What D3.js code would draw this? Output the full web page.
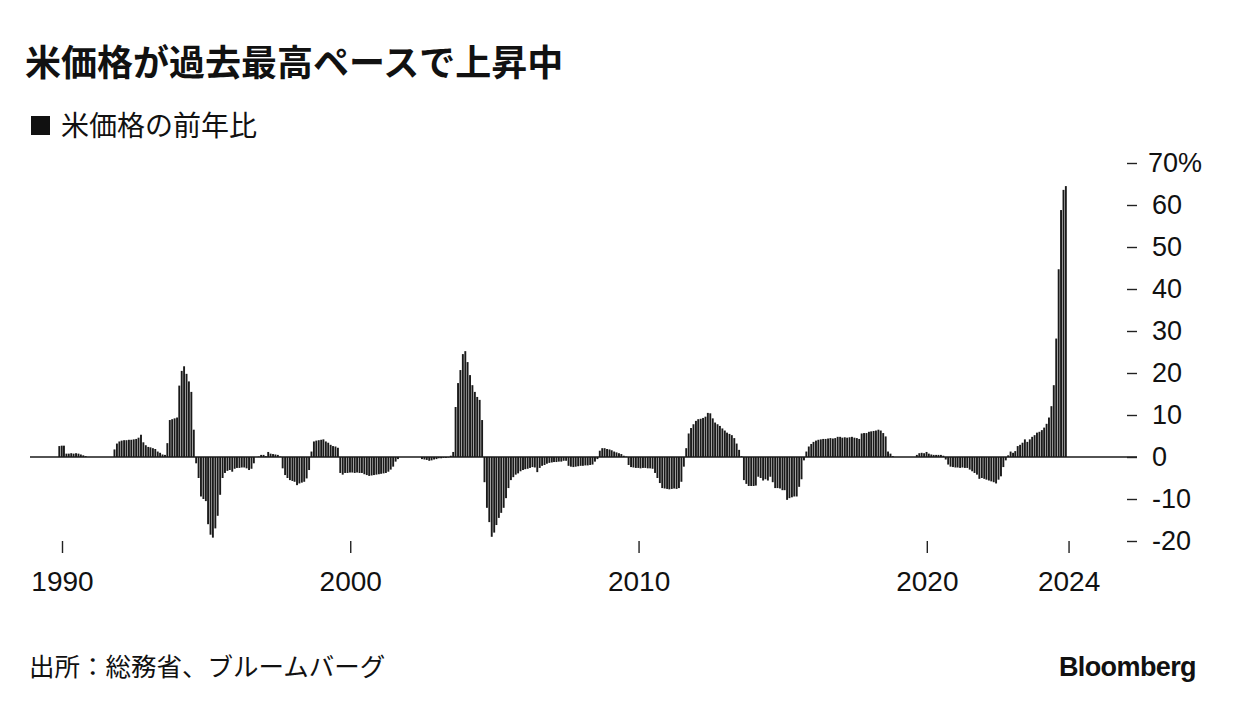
<!DOCTYPE html>
<html>
<head>
<meta charset="utf-8">
<script src="https://cdn.jsdelivr.net/npm/d3@7"></script>
<style>
  body { margin: 0; background: #fff; }
  svg { display: block; }
  .jp { font-family: "Noto Sans CJK JP", "Noto Sans", sans-serif; fill: #111; }
  .num { font-family: "Liberation Sans", Arial, sans-serif; fill: #111; }
</style>
</head>
<body>
<div id="chart"></div>
<script>
// Rice price, year-on-year change (%), monthly Jan 1990 - Dec 2024
const startMonth = new Date(1990, 0, 1);
const endMonth = new Date(2025, 0, 1);
const yoy = [
  2.6, 2.7, 2.7, 0.8, 0.8, 0.9, 0.8, 0.9, 0.8, 0.6, 0.4, 0.2,            // 1990
  0, 0, 0, 0, 0, 0, 0, 0, 0, 0, 0, 1.8,                                  // 1991
  3.2, 3.7, 3.9, 4.0, 4.0, 4.1, 4.1, 4.2, 4.3, 4.6, 5.3, 3.5,            // 1992
  2.8, 2.4, 2.3, 2.1, 1.9, 1.3, 1.0, 0.6, 0.5, 3.3, 8.8, 9.0,            // 1993
  9.2, 9.4, 17.0, 20.5, 21.6, 19.8, 18.0, 15.5, 6.5, -1.5, -5.0, -9.4,   // 1994
  -10.0, -10.5, -16.0, -18.5, -19.2, -17.0, -14.0, -9.0, -5.0, -3.8, -3.3, -3.1, // 1995
  -3.5, -2.8, -2.6, -2.6, -2.5, -2.5, -2.7, -3.1, -2.8, -1.5, 0.0, 0.1,  // 1996
  0.5, 0.5, 0.2, 1.2, 0.8, 0.7, 0.6, 0.5, 0.1, -2.7, -4.3, -5.0,         // 1997
  -5.5, -5.7, -5.9, -6.7, -6.3, -6.1, -5.9, -5.1, -3.1, 1.3, 3.7, 3.9,   // 1998
  4.0, 4.1, 4.2, 3.7, 3.4, 2.9, 2.6, 2.5, 2.2, -3.8, -4.2, -3.8,         // 1999
  -3.8, -3.7, -3.7, -3.8, -3.7, -3.8, -3.8, -4.1, -4.3, -4.5, -4.4, -4.3, // 2000
  -4.2, -4.1, -4.0, -3.9, -3.8, -3.5, -3.0, -2.3, -1.1, -0.5, 0, 0,      // 2001
  0, 0, 0, 0, 0, 0, 0, -0.5, -0.6, -0.7, -0.9, -0.8,                     // 2002
  -0.6, -0.5, -0.3, -0.3, -0.2, -0.2, -0.1, 0.3, 1.2, 11.9, 17.6, 20.7,  // 2003
  24.5, 25.2, 22.6, 19.5, 17.1, 15.5, 14.3, 13.6, 8.8, -6.0, -12.1, -15.5, // 2004
  -19.0, -18.0, -16.2, -14.5, -13.3, -12.1, -9.8, -7.4, -5.5, -4.8, -4.2, -3.9, // 2005
  -3.4, -3.1, -2.9, -2.8, -2.6, -2.4, -2.5, -3.6, -2.6, -2.1, -1.9, -1.6, // 2006
  -1.4, -1.3, -1.2, -1.2, -1.1, -1.1, -0.9, -0.9, -2.1, -2.3, -2.4, -2.3, // 2007
  -2.2, -2.1, -2.1, -2.0, -2.0, -1.9, -1.8, -1.1, -0.5, 1.5, 2.1, 2.1,   // 2008
  1.9, 1.8, 1.6, 1.3, 1.1, 0.9, 0.7, 0.3, 0.1, -1.9, -2.4, -2.5,         // 2009
  -2.6, -2.6, -2.7, -2.6, -2.6, -2.7, -2.7, -2.8, -3.8, -5.0, -6.2, -7.4, // 2010
  -7.5, -7.6, -7.7, -7.6, -7.5, -7.6, -7.4, -5.9, -2.3, 2.1, 5.6, 6.9,   // 2011
  7.8, 8.6, 9.0, 9.1, 9.3, 9.6, 10.5, 10.4, 9.2, 8.2, 7.8, 7.4,          // 2012
  6.8, 6.3, 5.8, 5.5, 5.2, 4.5, 3.2, 1.7, 0.2, -5.5, -6.4, -6.9,         // 2013
  -6.9, -6.9, -6.8, -4.7, -5.0, -5.6, -5.3, -5.6, -4.7, -6.0, -7.4, -7.4, // 2014
  -7.5, -7.9, -7.9, -10.2, -9.8, -9.6, -9.4, -9.4, -7.1, -5.3, -0.8, 1.3, // 2015
  2.5, 3.1, 3.6, 3.9, 4.1, 4.2, 4.3, 4.3, 4.4, 4.5, 4.4, 4.5,            // 2016
  4.8, 4.8, 4.6, 4.7, 4.6, 4.7, 4.8, 4.6, 4.5, 4.3, 5.6, 5.7,            // 2017
  5.7, 6.0, 6.1, 6.2, 6.3, 6.5, 6.3, 5.7, 4.9, 1.3, 0.8, 0.2,            // 2018
  0, 0, 0, 0, 0, 0, 0, 0, 0, 0.5, 0.9, 1.0,                              // 2019
  0.9, 1.2, 0.8, 0.6, 0.5, 0.5, 0.5, 0.5, 0.3, -0.6, -1.8, -2.3,         // 2020
  -2.4, -2.5, -2.5, -2.6, -2.5, -2.6, -2.6, -3.0, -3.4, -3.8, -4.2, -5.2, // 2021
  -5.0, -5.2, -5.4, -5.6, -5.8, -6.0, -6.3, -5.4, -4.6, -2.4, -0.8, 0.4, // 2022
  1.3, 1.0, 1.4, 2.6, 2.9, 3.4, 4.2, 3.6, 4.2, 4.8, 5.2, 5.8,            // 2023
  6.0, 6.4, 7.0, 7.9, 9.4, 12.1, 17.1, 28.2, 44.7, 58.8, 63.6, 64.5      // 2024
];
const yTicks = [-20, -10, 0, 10, 20, 30, 40, 50, 60, 70];
const xTickDates = [new Date(1990, 0, 1), new Date(2000, 0, 1), new Date(2010, 0, 1), new Date(2020, 0, 1), new Date(2024, 11, 1)];
const xTickLabels = ['1990', '2000', '2010', '2020', '2024'];

const title = '米価格が過去最高ペースで上昇中';
const legendLabel = '米価格の前年比';
const source = '出所：総務省、ブルームバーグ';

const months = d3.timeMonth.range(startMonth, endMonth);
const data = months.map((d, i) => ({ date: d, value: yoy[i] }));

const width = 1236, height = 726;
const svg = d3.select('#chart').append('svg')
  .attr('width', width)
  .attr('height', height);

// Scales
const x = d3.scaleTime()
  .domain([startMonth, endMonth])
  .range([62, 1071]);

const y = d3.scaleLinear()
  .domain([-20, 70])
  .range([541, 163]);

// Headings
svg.append('text')
  .attr('class', 'jp')
  .attr('x', 25).attr('y', 76)
  .attr('font-size', 36)
  .attr('font-weight', 700)
  .text(title);

svg.append('rect')
  .attr('x', 31).attr('y', 116)
  .attr('width', 19).attr('height', 19)
  .attr('fill', '#111');

svg.append('text')
  .attr('class', 'jp')
  .attr('x', 61).attr('y', 136)
  .attr('font-size', 28)
  .text(legendLabel);

// Bars
const barW = 1.9;
svg.append('g')
  .selectAll('rect')
  .data(data.filter(d => d.value !== 0))
  .enter()
  .append('rect')
  .attr('x', d => x(d.date) - 2.7 - barW / 2)
  .attr('y', d => y(Math.max(0, d.value)))
  .attr('width', barW)
  .attr('height', d => Math.abs(y(d.value) - y(0)))
  .attr('fill', '#1a1a1a');

// Zero line
svg.append('line')
  .attr('x1', 30).attr('x2', 1137)
  .attr('y1', y(0)).attr('y2', y(0))
  .attr('stroke', '#1a1a1a')
  .attr('stroke-width', 1.6);

// Y axis (right)
const yAxis = svg.append('g')
  .attr('transform', 'translate(1127,0)')
  .call(d3.axisRight(y)
    .tickValues(yTicks)
    .tickSize(10)
    .tickPadding(15)
    .tickFormat(d => d === 70 ? '70%' : String(d)));
yAxis.select('.domain').remove();
yAxis.selectAll('line').attr('stroke', '#222').attr('stroke-width', 1.4);
yAxis.selectAll('text')
  .attr('class', 'num')
  .attr('font-size', 27)
  .attr('dx', d => d === 70 ? -4 : 0);

// X axis
const xAxis = svg.append('g')
  .attr('transform', 'translate(0,541)')
  .call(d3.axisBottom(x)
    .tickValues(xTickDates)
    .tickSize(12)
    .tickPadding(18)
    .tickFormat((d, i) => xTickLabels[i]));
xAxis.select('.domain').remove();
xAxis.selectAll('line').attr('stroke', '#222').attr('stroke-width', 1.4);
xAxis.selectAll('text')
  .attr('class', 'num')
  .attr('font-size', 28);

// Footer
svg.append('text')
  .attr('class', 'jp')
  .attr('x', 29).attr('y', 676)
  .attr('font-size', 25.5)
  .text(source);

svg.append('text')
  .attr('class', 'num')
  .attr('x', 1196).attr('y', 676)
  .attr('text-anchor', 'end')
  .attr('font-size', 27)
  .attr('font-weight', 700)
  .attr('letter-spacing', -0.6)
  .text('Bloomberg');
</script>
</body>
</html>
